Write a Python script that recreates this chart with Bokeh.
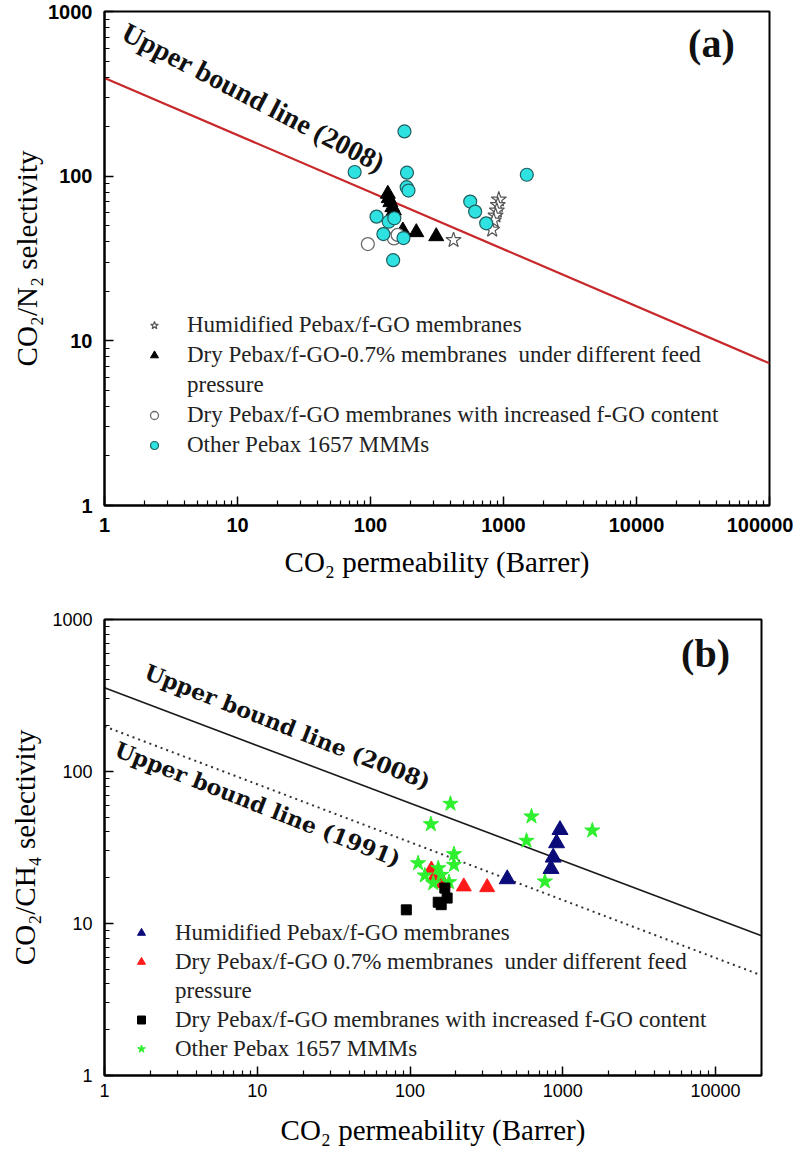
import math
from bokeh.plotting import figure
from bokeh.models import Range1d, FixedTicker, PrintfTickFormatter, Legend, LegendItem
from bokeh.layouts import column
from bokeh.core.properties import value
from bokeh.embed import file_html
from bokeh.resources import INLINE

# ---------------- Panel (a): CO2/N2 ----------------
a_hum_x = [421, 922, 906, 891, 871, 845, 822]
a_hum_y = [40.9, 72.1, 66.8, 61.8, 57.6, 53.7, 47.3]
a_dry_x = [135, 137, 141, 146, 150, 175, 221, 312]
a_dry_y = [78, 73.4, 69.4, 64.7, 61.8, 46.7, 45.6, 43.1]
a_inc_x = [95.5, 150, 160]
a_inc_y = [38.7, 41.9, 44]
a_oth_x = [180, 76, 188, 187, 193, 1497, 562, 612, 741, 111, 137, 151, 125, 177, 148]
a_oth_y = [187, 106, 105, 85.7, 81.8, 102, 70.1, 60.9, 51.7, 56.8, 52.9, 55.5, 44.5, 42.1, 30.9]
a_ub_x = [1, 100000]
a_ub_y = [395, 7.3]

# ---------------- Panel (b): CO2/CH4 ----------------
b_hum_x = [959, 911, 866, 837, 433]
b_hum_y = [41.3, 33.8, 27.2, 22.9, 19.6]
b_dry_x = [138, 146, 165, 225, 320]
b_dry_y = [22.6, 20.4, 18.4, 17.5, 17.3]
b_inc_x = [94.6, 153, 160, 175, 169]
b_inc_y = [12.3, 13.8, 13.3, 14.7, 17.1]
b_oth_x = [184, 137, 624, 1561, 579, 194, 194, 113, 125, 153, 160, 142, 180, 764]
b_oth_y = [61.3, 45, 50.6, 40.9, 35, 28.6, 24.3, 24.9, 20.7, 23.1, 20.9, 18.4, 18.7, 18.9]
b_ub08_x = [1, 20000]
b_ub08_y = [355, 8.3]
b_ub91_x = [1, 20000]
b_ub91_y = [198, 4.56]

labels_a = ["Humidified Pebax/f-GO membranes",
            "Dry Pebax/f-GO-0.7% membranes  under different feed",
            "pressure",
            "Dry Pebax/f-GO membranes with increased f-GO content",
            "Other Pebax 1657 MMMs"]
labels_b = ["Humidified Pebax/f-GO membranes",
            "Dry Pebax/f-GO 0.7% membranes  under different feed",
            "pressure",
            "Dry Pebax/f-GO membranes with increased f-GO content",
            "Other Pebax 1657 MMMs"]

SERIF = "Liberation Serif"
SANS = "Liberation Sans"


def minor(lo_exp, hi_exp):
    return [m * 10 ** k for k in range(lo_exp, hi_exp) for m in range(2, 10)]


def style(p, xticks, yticks, xminor, yminor, tick_style, tick_size, xlabel, ylabel,
          xl_standoff, yl_standoff, xt_standoff, yt_standoff):
    p.xaxis.ticker = FixedTicker(ticks=xticks, minor_ticks=xminor)
    p.yaxis.ticker = FixedTicker(ticks=yticks, minor_ticks=yminor)
    p.xaxis.axis_label = xlabel
    p.yaxis.axis_label = ylabel
    for ax in (p.xaxis[0], p.yaxis[0]):
        ax.formatter = PrintfTickFormatter(format="%d")
        ax.major_tick_in = 9
        ax.major_tick_out = 0
        ax.minor_tick_in = 5
        ax.minor_tick_out = 0
        ax.axis_line_width = 2
        ax.axis_line_color = "black"
        ax.major_tick_line_width = 1.5
        ax.minor_tick_line_width = 1.2
        ax.major_tick_line_color = "black"
        ax.minor_tick_line_color = "black"
        ax.major_label_text_font = SANS
        ax.major_label_text_font_style = tick_style
        ax.major_label_text_font_size = tick_size
        ax.major_label_text_color = "black"
        ax.axis_label_text_font = SERIF
        ax.axis_label_text_font_style = "normal"
        ax.axis_label_text_font_size = "29px"
        ax.axis_label_text_color = "black"
    p.xaxis.axis_label_standoff = xl_standoff
    p.yaxis.axis_label_standoff = yl_standoff
    p.xaxis.major_label_standoff = xt_standoff
    p.yaxis.major_label_standoff = yt_standoff
    p.grid.visible = False
    p.outline_line_color = "black"
    p.outline_line_width = 2
    p.outline_line_alpha = 1
    p.background_fill_color = "white"
    p.border_fill_color = "white"


def add_legend(p, items, loc, standoff, row_h):
    leg = Legend(items=items, location=loc, orientation="vertical",
                 label_text_font=SERIF, label_text_font_size="23px",
                 label_text_color="#222222", label_standoff=standoff,
                 glyph_width=20, glyph_height=row_h, label_height=row_h,
                 spacing=0, padding=0, margin=0,
                 background_fill_alpha=0, border_line_alpha=0)
    p.add_layout(leg)


# ================= Figure (a) =================
pa = figure(x_axis_type="log", y_axis_type="log",
            x_range=Range1d(1, 1e5), y_range=Range1d(1, 1000),
            frame_width=665, frame_height=494,
            min_border_left=97, min_border_right=31, min_border_top=11, min_border_bottom=84,
            output_backend="svg", toolbar_location=None)
style(pa, [1, 10, 100, 1000, 10000, 100000], [1, 10, 100, 1000],
      minor(0, 5), minor(0, 3), "bold", "20px",
      "CO\u2082 permeability (Barrer)", "CO\u2082/N\u2082 selectivity",
      11, 2, 12, 12)

pa.line(a_ub_x, a_ub_y, line_color="#c8282a", line_width=2.2)

r_a_dry = pa.scatter(a_dry_x, a_dry_y, marker="triangle", size=15,
                     fill_color="black", line_color="black")
r_a_inc = pa.scatter(a_inc_x, a_inc_y, marker="circle", size=13,
                     fill_color="white", line_color="#6a6a6a", line_width=1.3)
r_a_hum = pa.scatter(a_hum_x, a_hum_y, marker="star", size=16,
                     fill_color="white", line_color="#555555", line_width=1.2)
r_a_oth = pa.scatter(a_oth_x, a_oth_y, marker="circle", size=13,
                     fill_color="#2fe2e2", line_color="#1f5f5f", line_width=1.2)
r_a_dummy = pa.scatter([], [], marker="circle", size=1, fill_alpha=0, line_alpha=0)

pa.text(x=[13.2], y=[300], text=["Upper bound line (2008)"], angle=-math.radians(27.5),
        text_font=value(SERIF), text_font_style="bold", text_font_size="28px",
        text_align="center", text_baseline="middle", text_color="#111111")
pa.text(x=[36600], y=[638], text=["(a)"],
        text_font=value(SERIF), text_font_style="bold", text_font_size="40px",
        text_align="center", text_baseline="middle", text_color="#111111")

add_legend(pa, [LegendItem(label=labels_a[0], renderers=[r_a_hum]),
                LegendItem(label=labels_a[1], renderers=[r_a_dry]),
                LegendItem(label=labels_a[2], renderers=[r_a_dummy]),
                LegendItem(label=labels_a[3], renderers=[r_a_inc]),
                LegendItem(label=labels_a[4], renderers=[r_a_oth])],
           (40, 45), 23, 30)

# ================= Figure (b) =================
pb = figure(x_axis_type="log", y_axis_type="log",
            x_range=Range1d(1, 20000), y_range=Range1d(1, 1000),
            frame_width=657, frame_height=456,
            min_border_left=104, min_border_right=32, min_border_top=30, min_border_bottom=75,
            output_backend="svg", toolbar_location=None)
style(pb, [1, 10, 100, 1000, 10000], [1, 10, 100, 1000],
      minor(0, 5), minor(0, 3), "normal", "18px",
      "CO\u2082 permeability (Barrer)", "CO\u2082/CH\u2084 selectivity",
      14, 8, 8, 12)

pb.line(b_ub08_x, b_ub08_y, line_color="#1a1a1a", line_width=1.6)
pb.line(b_ub91_x, b_ub91_y, line_color="#333333", line_width=2, line_dash="2 4")

r_b_dry = pb.scatter(b_dry_x, b_dry_y, marker="triangle", size=15,
                     fill_color="#ff1a1a", line_color="#ff1a1a")
r_b_oth = pb.scatter(b_oth_x, b_oth_y, marker="star", size=16,
                     fill_color="#2ef02e", line_color="#2ef02e")
r_b_inc = pb.scatter(b_inc_x, b_inc_y, marker="square", size=10,
                     fill_color="black", line_color="black")
r_b_hum = pb.scatter(b_hum_x, b_hum_y, marker="triangle", size=16,
                     fill_color="#0b0b7a", line_color="#0b0b7a")
r_b_dummy = pb.scatter([], [], marker="circle", size=1, fill_alpha=0, line_alpha=0)

pb.text(x=[15.8], y=[197], text=["Upper bound line (2008)"], angle=-math.radians(21.5),
        text_font=value("DejaVu Serif"), text_font_style="bold", text_font_size="22px",
        text_align="center", text_baseline="middle", text_color="#111111")
pb.text(x=[10.1], y=[61], text=["Upper bound line (1991)"], angle=-math.radians(21.5),
        text_font=value("DejaVu Serif"), text_font_style="bold", text_font_size="22px",
        text_align="center", text_baseline="middle", text_color="#111111")
pb.text(x=[8600], y=[597], text=["(b)"],
        text_font=value(SERIF), text_font_style="bold", text_font_size="40px",
        text_align="center", text_baseline="middle", text_color="#111111")

add_legend(pb, [LegendItem(label=labels_b[0], renderers=[r_b_hum]),
                LegendItem(label=labels_b[1], renderers=[r_b_dry]),
                LegendItem(label=labels_b[2], renderers=[r_b_dummy]),
                LegendItem(label=labels_b[3], renderers=[r_b_inc]),
                LegendItem(label=labels_b[4], renderers=[r_b_oth])],
           (27, 12), 24, 29)

layout = column(pa, pb, spacing=0, margin=(0, 0, -8, 0))
open("out.html", "w").write(file_html(layout, INLINE))
